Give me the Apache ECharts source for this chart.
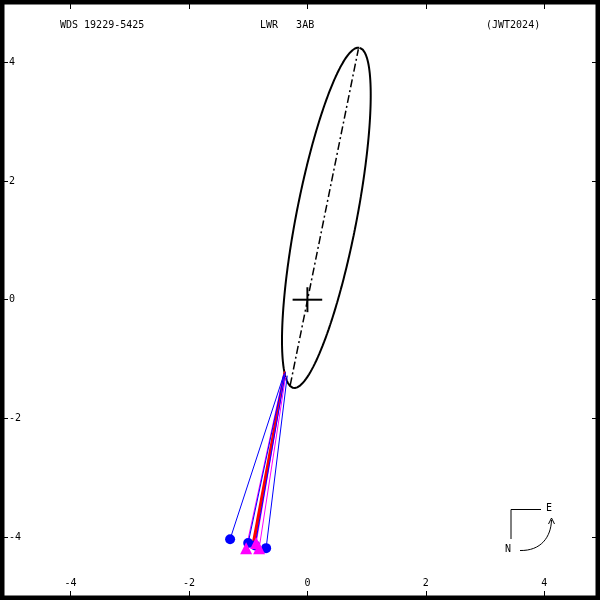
<!DOCTYPE html>
<html>
<head>
<meta charset="utf-8">
<script src="https://cdn.jsdelivr.net/npm/echarts@6/dist/echarts.min.js"></script>
<style>html,body{margin:0;padding:0;background:#fff}#c{width:600px;height:600px}</style>
</head>
<body>
<div id="c"></div>
<script>
// ---- data ----
const tickValues = [-4, -2, 0, 2, 4];
const xRange = [-5.19, 4.94];
const yRange = [-5.06, 5.05];
const titleLeft = 'WDS 19229-5425';
const titleMid = 'LWR   3AB';
const titleRight = '(JWT2024)';
// apparent orbit ellipse (centre, semi-axes, position angle of major axis from +x)
const ellCenter = [0.32, 1.38];
const ellA = 2.92;
const ellB = 0.51;
const ellAngleDeg = 79;
// line of apsides (periastron -> apastron)
const apsides = [[-0.29, -1.44], [0.86, 4.22]];
// primary cross half sizes
const crossHalf = [0.25, 0.21];
// observations and their predicted positions
const blueObs  = [[-1.305, -4.035], [-1.00, -4.10], [-0.883, -4.14], [-0.697, -4.186]];
const bluePred = [[-0.40, -1.27], [-0.39, -1.24], [-0.37, -1.22], [-0.34, -1.28]];
const magObs   = [[-1.035, -4.19], [-0.866, -4.10], [-0.815, -4.19]];
const magPred  = [[-0.40, -1.26], [-0.38, -1.25], [-0.37, -1.30]];
const redObs   = [[-0.93, -4.15], [-0.90, -4.12]];
const redPred  = [[-0.39, -1.23], [-0.38, -1.21]];

// ---- build ----
const ellPts = [];
const th = ellAngleDeg * Math.PI / 180;
for (let i = 0; i <= 360; i++) {
  const t = i * Math.PI / 180;
  const u = ellA * Math.cos(t), v = ellB * Math.sin(t);
  ellPts.push([ellCenter[0] + u * Math.cos(th) - v * Math.sin(th),
               ellCenter[1] + u * Math.sin(th) + v * Math.cos(th)]);
}
const FONT = 'DejaVu Sans Mono';
function seg(a, b, color, width, z) {
  return { type: 'line', data: [a, b], showSymbol: false, symbol: 'none', silent: true,
    lineStyle: { color: color, width: width }, z: z, animation: false };
}
const series = [];
series.push({ type: 'line', data: ellPts, showSymbol: false, symbol: 'none', smooth: false,
  lineStyle: { color: '#000', width: 2 }, z: 3, animation: false });
series.push({ type: 'line', data: apsides, showSymbol: false, symbol: 'none',
  lineStyle: { color: '#000', width: 1.5, type: [8, 3, 2, 3] }, z: 3, animation: false });
series.push(seg([-crossHalf[0], 0], [crossHalf[0], 0], '#000', 2, 4));
series.push(seg([0, -crossHalf[1]], [0, crossHalf[1]], '#000', 2, 4));
redObs.forEach((p, i) => series.push(seg(p, redPred[i], '#ff0000', 2, 5)));
magObs.forEach((p, i) => series.push(seg(p, magPred[i], '#ff00ff', 1, 6)));
blueObs.forEach((p, i) => series.push(seg(p, bluePred[i], '#0000ff', 1, 6)));
series.push({ type: 'scatter', data: blueObs, symbol: 'circle', symbolSize: 10,
  itemStyle: { color: '#0000ff', opacity: 1 }, z: 7, animation: false });
series.push({ type: 'scatter', data: magObs, symbol: 'triangle', symbolSize: 12,
  itemStyle: { color: '#ff00ff', opacity: 1 }, z: 8, animation: false });

function xAx(pos, showLabel) {
  return { type: 'value', min: xRange[0], max: xRange[1], position: pos,
    axisLine: { show: false, onZero: false }, splitLine: { show: false },
    axisTick: { inside: true, length: 9, customValues: tickValues, lineStyle: { color: '#000', width: 1 } },
    axisLabel: { show: showLabel, inside: true, margin: 12, customValues: tickValues,
      color: '#000', fontFamily: FONT, fontSize: 10 } };
}
function yAx(pos, showLabel) {
  return { type: 'value', min: yRange[0], max: yRange[1], position: pos,
    axisLine: { show: false, onZero: false }, splitLine: { show: false },
    axisTick: { inside: true, length: 8, customValues: tickValues, lineStyle: { color: '#000', width: 1 } },
    axisLabel: { show: showLabel, inside: true, margin: 9, customValues: tickValues,
      color: '#000', fontFamily: FONT, fontSize: 10 } };
}

const chart = echarts.init(document.getElementById('c'), null, { renderer: 'canvas' });
chart.setOption({
  animation: false,
  backgroundColor: '#fff',
  grid: { left: 0, right: 0, top: 0, bottom: 0, show: true, borderColor: '#000', borderWidth: 9, backgroundColor: 'transparent' },
  xAxis: [xAx('bottom', true), xAx('top', false)],
  yAxis: [yAx('left', true), yAx('right', false)],
  series: series,
  graphic: [
    { type: 'text', left: 60, top: 20, style: { text: titleLeft, font: '10px "DejaVu Sans Mono"', fill: '#000' } },
    { type: 'text', left: 260, top: 20, style: { text: titleMid, font: '10px "DejaVu Sans Mono"', fill: '#000' } },
    { type: 'text', left: 486, top: 20, style: { text: titleRight, font: '10px "DejaVu Sans Mono"', fill: '#000' } },
    { type: 'polyline', shape: { points: [[541, 509.5], [511, 509.5], [511, 539]] }, style: { stroke: '#000', lineWidth: 1, fill: null } },
    { type: 'text', left: 546, top: 503, style: { text: 'E', font: '10px "DejaVu Sans Mono"', fill: '#000' } },
    { type: 'text', left: 505, top: 544, style: { text: 'N', font: '10px "DejaVu Sans Mono"', fill: '#000' } },
    { type: 'bezierCurve', shape: { x1: 520, y1: 550.5, x2: 551.5, y2: 520, cpx1: 541, cpy1: 551, cpx2: 551, cpy2: 537 }, style: { stroke: '#000', lineWidth: 1, fill: null } },
    { type: 'polyline', shape: { points: [[548.5, 524], [551.5, 518], [554.5, 524]] }, style: { stroke: '#000', lineWidth: 1, fill: null } }
  ]
});
</script>
</body>
</html>
